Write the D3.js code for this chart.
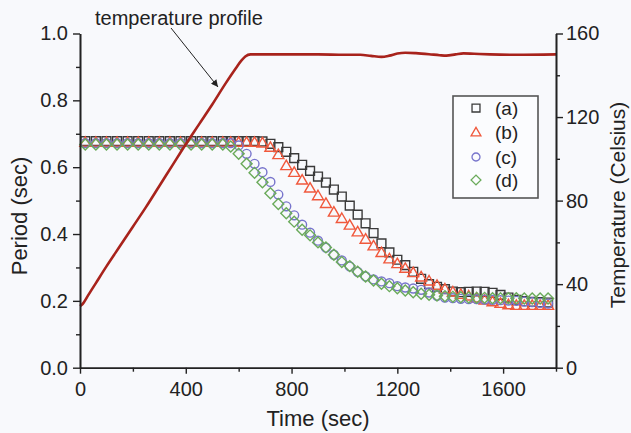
<!DOCTYPE html>
<html>
<head>
<meta charset="utf-8">
<script src="https://cdn.jsdelivr.net/npm/d3@7"></script>
<style>
  html, body { margin: 0; padding: 0; background: #f8f9fc; }
  svg { display: block; }
  text { font-family: "Liberation Sans", Arial, sans-serif; fill: #222; }
</style>
</head>
<body>
<svg id="chart" width="631" height="433"></svg>
<script>
// ---------- data ----------
const sampleTime = [20,60,100,140,180,220,260,300,340,380,420,460,500,540,
  570,600,630,660,690,720,750,780,810,840,870,900,930,960,990,1020,1050,1080,1110,1140,
  1170,1200,1230,1260,1290,1320,1350,1380,1410,1440,1470,1500,1530,1560,1590,1620,1650,
  1680,1710,1740,1770];

const periodA = [0.678,0.678,0.678,0.678,0.678,0.678,0.678,0.678,0.678,0.678,0.678,0.678,0.678,0.678,
  0.678,0.678,0.678,0.678,0.677,0.670,0.660,0.646,0.627,0.607,0.589,0.572,0.554,0.533,0.512,0.485,0.458,0.432,0.403,0.372,
  0.345,0.323,0.307,0.287,0.266,0.250,0.242,0.235,0.228,0.226,0.227,0.228,0.227,0.224,0.218,0.210,0.203,
  0.199,0.197,0.196,0.195];

const periodB = [0.675,0.675,0.675,0.675,0.675,0.675,0.675,0.675,0.675,0.675,0.675,0.675,0.675,0.675,
  0.675,0.675,0.675,0.675,0.673,0.660,0.638,0.605,0.585,0.562,0.538,0.515,0.492,0.466,0.447,0.427,0.407,0.385,0.365,0.345,
  0.326,0.312,0.298,0.285,0.272,0.260,0.247,0.236,0.227,0.220,0.215,0.209,0.203,0.198,0.193,0.189,0.187,
  0.187,0.187,0.187,0.187];

const periodC = [0.672,0.672,0.672,0.672,0.672,0.672,0.672,0.672,0.672,0.672,0.672,0.672,0.672,0.672,
  0.672,0.665,0.640,0.610,0.585,0.556,0.518,0.483,0.456,0.428,0.404,0.380,0.359,0.338,0.321,0.303,0.287,0.273,0.264,0.258,
  0.253,0.244,0.240,0.237,0.233,0.225,0.215,0.210,0.208,0.206,0.205,0.205,0.204,0.203,0.202,0.201,0.200,
  0.198,0.196,0.194,0.192];

const periodD = [0.668,0.668,0.668,0.668,0.668,0.668,0.668,0.668,0.668,0.668,0.668,0.668,0.668,0.668,
  0.662,0.640,0.610,0.583,0.555,0.522,0.490,0.462,0.437,0.413,0.396,0.375,0.360,0.338,0.316,0.304,0.287,0.273,0.261,0.251,
  0.244,0.238,0.231,0.226,0.221,0.218,0.216,0.214,0.212,0.211,0.210,0.209,0.209,0.208,0.208,0.208,0.208,
  0.207,0.207,0.207,0.207];

const seriesNames = ["(a)", "(b)", "(c)", "(d)"];

const tempTime = [0,10,30,60,100,150,200,250,300,350,400,450,500,550,590,610,625,645,
  700,800,900,1000,1060,1100,1140,1170,1200,1230,1270,1320,1360,1385,1420,1450,1490,1550,1650,1800];
const tempValue = [29.5,30.5,34.5,40.5,48.5,58,67.5,77,87,97,107,116.5,126,136,143.5,147,149,150,
  150,150,150,149.8,149.8,149.3,148.8,149.4,150.4,150.8,150.6,150.1,149.6,149.4,150,150.5,150.3,150,149.8,150];

const xMajorTicks = [0,400,800,1200,1600];
const xMinorTicks = [200,600,1000,1400,1800];
const yLeftMajorTicks = [0,0.2,0.4,0.6,0.8,1.0];
const yLeftMinorTicks = [0.1,0.3,0.5,0.7,0.9];
const yRightMajorTicks = [0,40,80,120,160];
const yRightMinorTicks = [20,60,100,140];

const annotationText = "temperature profile";
const xTitle = "Time (sec)";
const yLeftTitle = "Period (sec)";
const yRightTitle = "Temperature (Celsius)";

// ---------- layout ----------
const svg = d3.select("#chart");
const L = 80, R = 556, T = 33.5, B = 367.7;

const x = d3.scaleLinear().domain([0, 1800]).range([L, R]);
const yL = d3.scaleLinear().domain([0, 1]).range([B, T]);
const yR = d3.scaleLinear().domain([0, 160]).range([B, T]);

const styles = [
  { color: "#3a3a3a", type: "square" },
  { color: "#f0583c", type: "triangle" },
  { color: "#7774cc", type: "circle" },
  { color: "#6aaa5a", type: "diamond" }
];

function symbolPath(type, scale) {
  const s = scale || 1;
  if (type === "square") return d3.symbol(d3.symbolSquare, 78 * s * s)();
  if (type === "triangle") return d3.symbol(d3.symbolTriangle, 52 * s * s)();
  if (type === "circle") return d3.symbol(d3.symbolCircle, 62 * s * s)();
  return d3.symbol(d3.symbolSquare, 60 * s * s)();
}

// markers
const allPeriods = [periodA, periodB, periodC, periodD];
allPeriods.forEach((vals, i) => {
  const st = styles[i];
  svg.append("g")
    .selectAll("path")
    .data(sampleTime.map((t, j) => ({ t, v: vals[j] })))
    .join("path")
    .attr("d", symbolPath(st.type))
    .attr("transform", d => `translate(${x(d.t)},${yL(d.v)})` + (st.type === "diamond" ? " rotate(45)" : (st.type === "triangle" ? " translate(0,1)" : "")))
    .attr("fill", "none")
    .attr("stroke", st.color)
    .attr("stroke-width", 1.4);
});

// temperature line
svg.append("path")
  .datum(tempTime.map((t, i) => ({ t, v: tempValue[i] })))
  .attr("fill", "none")
  .attr("stroke", "#a8231c")
  .attr("stroke-width", 2.6)
  .attr("stroke-linejoin", "round")
  .attr("d", d3.line().x(d => x(d.t)).y(d => yR(d.v)).curve(d3.curveMonotoneX));

// axes
function styleAxis(g) {
  g.select(".domain").attr("stroke", "#222").attr("stroke-width", 1.6);
  g.selectAll(".tick line").attr("stroke", "#222").attr("stroke-width", 1.4);
  g.selectAll(".tick text").attr("font-size", 20).attr("fill", "#222")
    .attr("font-family", "Liberation Sans, Arial, sans-serif");
}

svg.append("g").attr("transform", `translate(0,${B})`)
  .call(d3.axisBottom(x).tickValues(xMinorTicks).tickSize(4).tickFormat("").tickSizeOuter(0))
  .call(styleAxis);
svg.append("g").attr("transform", `translate(0,${B})`)
  .call(d3.axisBottom(x).tickValues(xMajorTicks).tickSize(6).tickPadding(8).tickSizeOuter(0).tickFormat(d3.format("d")))
  .call(styleAxis);

svg.append("g").attr("transform", `translate(${L},0)`)
  .call(d3.axisLeft(yL).tickValues(yLeftMinorTicks).tickSize(4).tickFormat("").tickSizeOuter(0))
  .call(styleAxis);
svg.append("g").attr("transform", `translate(${L},0)`)
  .call(d3.axisLeft(yL).tickValues(yLeftMajorTicks).tickSize(7).tickPadding(5).tickSizeOuter(0).tickFormat(d3.format(".1f")))
  .call(styleAxis);

svg.append("g").attr("transform", `translate(${R},0)`)
  .call(d3.axisRight(yR).tickValues(yRightMinorTicks).tickSize(4).tickFormat("").tickSizeOuter(0))
  .call(styleAxis);
svg.append("g").attr("transform", `translate(${R},0)`)
  .call(d3.axisRight(yR).tickValues(yRightMajorTicks).tickSize(7).tickPadding(3).tickSizeOuter(0).tickFormat(d3.format("d")))
  .call(styleAxis);

// axis titles
svg.append("text").attr("x", 318).attr("y", 426).attr("text-anchor", "middle")
  .attr("font-size", 22).text(xTitle);
svg.append("text").attr("transform", "translate(27,216) rotate(-90)").attr("text-anchor", "middle")
  .attr("font-size", 22).text(yLeftTitle);
svg.append("text").attr("transform", "translate(625,205) rotate(-90)").attr("text-anchor", "middle")
  .attr("font-size", 21).text(yRightTitle);

// annotation
svg.append("defs").append("marker")
  .attr("id", "arrow").attr("viewBox", "0 0 10 10").attr("refX", 10).attr("refY", 5)
  .attr("markerWidth", 9).attr("markerHeight", 7).attr("markerUnits", "userSpaceOnUse")
  .attr("orient", "auto")
  .append("path").attr("d", "M0,0 L10,5 L0,10 z").attr("fill", "#222");

svg.append("text").attr("x", 95).attr("y", 25).attr("font-size", 20).text(annotationText);
svg.append("line")
  .attr("x1", 171).attr("y1", 28).attr("x2", 218).attr("y2", 87)
  .attr("stroke", "#222").attr("stroke-width", 1)
  .attr("marker-end", "url(#arrow)");

// legend
const lg = svg.append("g");
lg.append("rect").attr("x", 453).attr("y", 96).attr("width", 85).attr("height", 102)
  .attr("fill", "#fbfcfe").attr("stroke", "#555").attr("stroke-width", 1.6);
const legendY = [108, 132, 157, 180];
seriesNames.forEach((name, i) => {
  const st = styles[i];
  lg.append("path")
    .attr("d", symbolPath(st.type, 0.9))
    .attr("transform", `translate(476,${legendY[i]})` + (st.type === "diamond" ? " rotate(45)" : (st.type === "triangle" ? " translate(0,1)" : "")))
    .attr("fill", "none").attr("stroke", st.color).attr("stroke-width", 1.3);
  lg.append("text").attr("x", 495).attr("y", legendY[i]).attr("dy", "0.35em")
    .attr("font-size", 19).text(name);
});
</script>
</body>
</html>
